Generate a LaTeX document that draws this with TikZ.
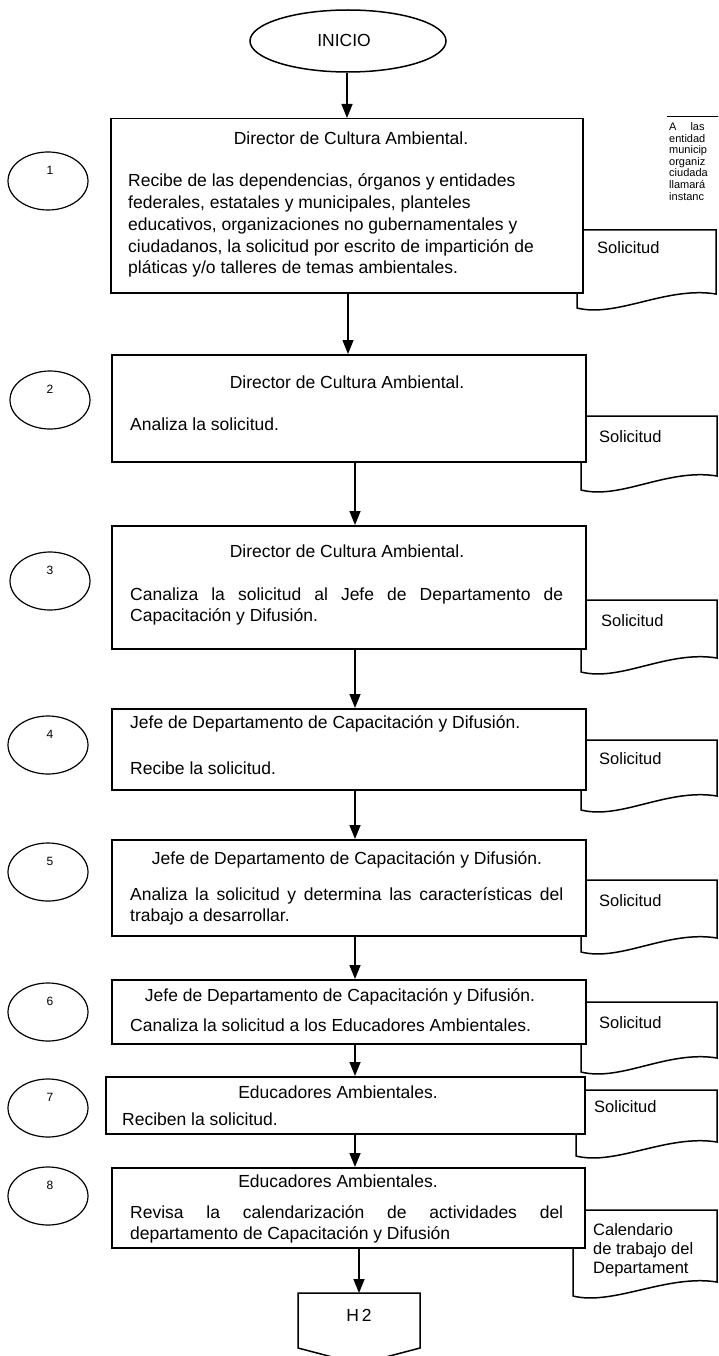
\documentclass[tikz,border=0pt]{standalone}
\usepackage{fontspec}
\setmainfont{Liberation Sans}
\usetikzlibrary{arrows.meta,shapes.geometric}
\newcommand\mlines[1]{\begin{tabular}[t]{@{}l@{}}#1\end{tabular}}
\begin{document}
\begin{tikzpicture}[x=1pt,y=-1pt,
  box/.style={draw,line width=1.5pt,fill=white,inner sep=0pt,anchor=north west},
  num/.style={draw,line width=1.2pt,ellipse,inner sep=0pt,minimum width=80pt,minimum height=58pt},
  numtxt/.style={font=\fontsize{12}{14}\selectfont,inner sep=0pt},
  arr/.style={line width=1.5pt,-{Triangle[width=11pt,length=14pt]}},
  doc/.style={draw,line width=1.5pt,fill=white},
  txt/.style={font=\fontsize{17.5}{21.7}\selectfont,inner sep=0pt,anchor=base west},
  ctxt/.style={font=\fontsize{17.5}{21.7}\selectfont,inner sep=0pt,anchor=base},
  dtxt/.style={font=\fontsize{16.5}{19}\selectfont,inner sep=0pt,anchor=base west},
  note/.style={font=\fontsize{11}{11.5}\selectfont,inner sep=0pt,anchor=base west},
  pics/docu/.style n args={2}{code={\draw[doc] (0,0) -- (#1,0) -- (#1,#2-14) .. controls (#1-50,#2-22) and (40,#2+10) .. (0,#2) -- cycle;}}
]
\useasboundingbox (0,0) rectangle (718,1356);
\clip (0,0) rectangle (718,1356);
\coordinate (ax) at (355,0);

% start
\node[draw,line width=1.5pt,ellipse,minimum width=196pt,minimum height=62pt,inner sep=0pt] (ini) at (348,41) {};
\node[ctxt] (initxt) at (344,47) {INICIO};

% note top right
\coordinate (nl) at (667,116);
\coordinate (nr) at (720,116);
\draw[line width=0.8pt] (nl) -- (nr);
\node[note] (nt) at (669,131) {\mlines{A\hspace{14pt}las\\entidad\\municip\\organiz\\ciudada\\llamará\\instanc}};

% documents (behind boxes)
\pic at (577,230) {docu={139}{78}};
\node[dtxt] (d1) at (597,254) {Solicitud};
\pic at (581,416) {docu={136}{74}};
\node[dtxt] (d2) at (599,442) {Solicitud};
\pic at (581,600) {docu={136}{72}};
\node[dtxt] (d3) at (601,626) {Solicitud};
\pic at (581,740) {docu={136}{70}};
\node[dtxt] (d4) at (599,764) {Solicitud};
\pic at (581,880) {docu={136}{72}};
\node[dtxt] (d5) at (599,906) {Solicitud};
\pic at (581,1002) {docu={136}{70}};
\node[dtxt] (d6) at (599,1028) {Solicitud};
\pic at (576,1090) {docu={141}{66}};
\node[dtxt] (d7) at (594,1112) {Solicitud};
\pic at (573,1210) {docu={144}{86}};
\node[dtxt] (d8) at (593,1235) {\mlines{Calendario\\de trabajo del\\Departament}};

% boxes
\node[box,minimum width=472pt,minimum height=174pt] (b1) at (110,118) {};
\node[ctxt] (b1t) at (351,145) {Director de Cultura Ambiental.};
\node[txt] (b1b) at (128,187) {\mlines{Recibe de las dependencias, órganos y entidades\\federales, estatales y municipales, planteles\\educativos, organizaciones no gubernamentales y\\ciudadanos, la solicitud por escrito de impartición de\\pláticas y/o talleres de temas ambientales.}};

\node[box,minimum width=474pt,minimum height=107pt] (b2) at (111,354) {};
\node[ctxt] (b2t) at (347,388) {Director de Cultura Ambiental.};
\node[txt] (b2b) at (130,430) {Analiza la solicitud.};

\node[box,minimum width=474pt,minimum height=123pt] (b3) at (111,525) {};
\node[ctxt] (b3t) at (347,557) {Director de Cultura Ambiental.};
\node[txt] (b3b) at (130,600) {\mlines{\makebox[433pt][s]{Canaliza la solicitud al Jefe de Departamento de}\\Capacitación y Difusión.}};

\node[box,minimum width=474pt,minimum height=81pt] (b4) at (111,708) {};
\node[txt] (b4t) at (130,728) {Jefe de Departamento de Capacitación y Difusión.};
\node[txt] (b4b) at (130,774) {Recibe la solicitud.};

\node[box,minimum width=474pt,minimum height=96pt] (b5) at (111,839) {};
\node[ctxt] (b5t) at (347,864) {Jefe de Departamento de Capacitación y Difusión.};
\node[txt] (b5b) at (130,900) {\mlines{\makebox[433pt][s]{Analiza la solicitud y determina las características del}\\trabajo a desarrollar.}};

\node[box,minimum width=474pt,minimum height=64pt] (b6) at (111,979) {};
\node[ctxt] (b6t) at (340,1001) {Jefe de Departamento de Capacitación y Difusión.};
\node[txt] (b6b) at (130,1031) {Canaliza la solicitud a los Educadores Ambientales.};

\node[box,minimum width=479pt,minimum height=57pt] (b7) at (105,1076) {};
\node[ctxt] (b7t) at (338,1098) {Educadores Ambientales.};
\node[txt] (b7b) at (122,1125) {Reciben la solicitud.};

\node[box,minimum width=473pt,minimum height=80pt] (b8) at (111,1167) {};
\node[ctxt] (b8t) at (338,1187) {Educadores Ambientales.};
\node[txt] (b8b) at (130,1218) {\mlines{\makebox[433pt][s]{Revisa la calendarización de actividades del}\\departamento de Capacitación y Difusión}};

% off-page connector
\coordinate (h2top) at (359,1293);
\draw[line width=1.5pt] (298,1293) -- (420,1293) -- (420,1348) -- (359,1364) -- (298,1348) -- cycle;
\node[ctxt] (h2) at (359,1321) {H\,2};

% numbered circles
\node[num] (c1) at (48,181) {};  \node[numtxt] (n1) at (50,170) {1};
\node[num] (c2) at (50,400) {};  \node[numtxt] (n2) at (50,389) {2};
\node[num] (c3) at (50,581) {};  \node[numtxt] (n3) at (50,570) {3};
\node[num] (c4) at (48,745) {};  \node[numtxt] (n4) at (50,734) {4};
\node[num] (c5) at (48,872) {};  \node[numtxt] (n5) at (50,861) {5};
\node[num] (c6) at (48,1012) {}; \node[numtxt] (n6) at (50,1001) {6};
\node[num] (c7) at (48,1108) {}; \node[numtxt] (n7) at (50,1097) {7};
\node[num] (c8) at (48,1196) {}; \node[numtxt] (n8) at (50,1185) {8};

% connectors
\draw[arr] (ini.south -| 347,0) -- (347,0 |- b1.north);
\draw[arr] (348,0 |- b1.south) -- (348,0 |- b2.north);
\draw[arr] (ax |- b2.south) -- (ax |- b3.north);
\draw[arr] (ax |- b3.south) -- (ax |- b4.north);
\draw[arr] (ax |- b4.south) -- (ax |- b5.north);
\draw[arr] (ax |- b5.south) -- (ax |- b6.north);
\draw[arr] (ax |- b6.south) -- (ax |- b7.north);
\draw[arr] (ax |- b7.south) -- (ax |- b8.north);
\draw[arr] (h2top |- b8.south) -- (h2top);
\end{tikzpicture}
\end{document}
